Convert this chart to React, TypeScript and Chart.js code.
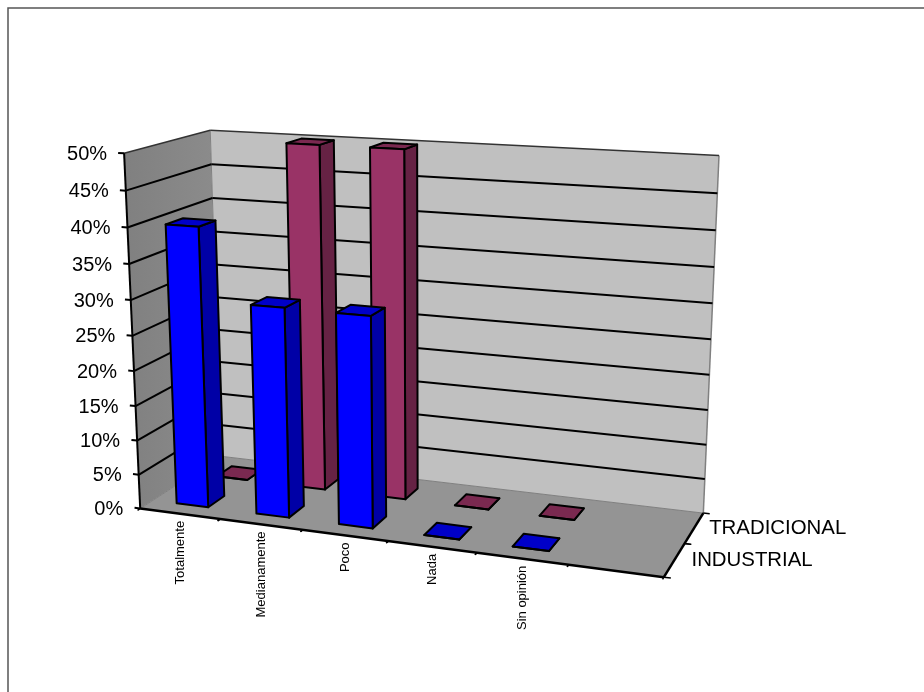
import React, { useEffect, useRef } from "react";
import { Chart, registerables } from "chart.js";

Chart.register(...registerables);

const categories = ["Totalmente", "Medianamente", "Poco", "Nada", "Sin opinión", ""];
const industrial = [40, 29.8, 29.7, 0, 0, null];
const tradicional = [0, 50, 50, 0, 0, null];
const seriesNames = ["INDUSTRIAL", "TRADICIONAL"];

const FONT = '"Liberation Sans", Arial, sans-serif';

// Seen corners of the plot box: [across, up, depth] -> canvas pixel.
const boxCorners: [number, number, number, number, number][] = [
  [0, 0, 0, 140, 507.7],
  [1, 0, 0, 664, 577],
  [0, 1, 0, 124.3, 153.3],
  [0, 0, 1, 221, 456.7],
  [1, 0, 1, 703.3, 512.7],
  [0, 1, 1, 210, 130],
  [1, 1, 1, 719, 155.7],
  [0.5, 0, 0, 388, 542],
  [0, 0.5, 0, 132.5, 336],
];

function solveCamera(points: typeof boxCorners): number[] {
  const rows: number[][] = [];
  for (const [x, y, z, px, py] of points) {
    const u = px / 1000;
    const v = py / 1000;
    rows.push([x, y, z, 1, 0, 0, 0, 0, -u * x, -u * y, -u * z, u]);
    rows.push([0, 0, 0, 0, x, y, z, 1, -v * x, -v * y, -v * z, v]);
  }
  const n = 11;
  const a: number[][] = [];
  for (let i = 0; i < n; i++) {
    const row = new Array(n + 1).fill(0);
    for (let j = 0; j <= n; j++) {
      for (const r of rows) row[j] += r[i] * r[j];
    }
    a.push(row);
  }
  for (let c = 0; c < n; c++) {
    let pivot = c;
    for (let r = c + 1; r < n; r++) {
      if (Math.abs(a[r][c]) > Math.abs(a[pivot][c])) pivot = r;
    }
    [a[c], a[pivot]] = [a[pivot], a[c]];
    for (let r = 0; r < n; r++) {
      if (r === c) continue;
      const f = a[r][c] / a[c][c];
      for (let j = c; j <= n; j++) a[r][j] -= f * a[c][j];
    }
  }
  return a.map((row, i) => row[n] / row[i]);
}

const cam = solveCamera(boxCorners);

function project(x: number, y: number, z: number): [number, number] {
  const w = cam[8] * x + cam[9] * y + cam[10] * z + 1;
  return [
    (1000 * (cam[0] * x + cam[1] * y + cam[2] * z + cam[3])) / w,
    (1000 * (cam[4] * x + cam[5] * y + cam[6] * z + cam[7])) / w,
  ];
}

type Pt = [number, number, number];

function face(ctx: CanvasRenderingContext2D, pts: Pt[], fill: string | null, stroke: string | null, lw = 2) {
  ctx.beginPath();
  pts.forEach((p, i) => {
    const [px, py] = project(p[0], p[1], p[2]);
    if (i === 0) ctx.moveTo(px, py);
    else ctx.lineTo(px, py);
  });
  ctx.closePath();
  if (fill) {
    ctx.fillStyle = fill;
    ctx.fill();
  }
  if (stroke) {
    ctx.strokeStyle = stroke;
    ctx.lineWidth = lw;
    ctx.lineJoin = "round";
    ctx.stroke();
  }
}

function line(ctx: CanvasRenderingContext2D, a: Pt, b: Pt, color = "#000", lw = 2) {
  const [ax, ay] = project(a[0], a[1], a[2]);
  const [bx, by] = project(b[0], b[1], b[2]);
  ctx.beginPath();
  ctx.moveTo(ax, ay);
  ctx.lineTo(bx, by);
  ctx.strokeStyle = color;
  ctx.lineWidth = lw;
  ctx.stroke();
}

const faceColors = [
  { front: "#0000FF", side: "#0000A6", top: "#0000C8" },
  { front: "#993366", side: "#662244", top: "#7A2950" },
];

const depthBands = seriesNames.length;

// Draws the walls, floor and axes in perspective, taking positions from the chart's scales.
const scenePlugin = {
  id: "scene3d",
  beforeDatasetsDraw(chart: any) {
    const { ctx, chartArea: area, scales } = chart;
    ctx.save();

    ctx.strokeStyle = "#555";
    ctx.lineWidth = 1.5;
    ctx.beginPath();
    ctx.moveTo(8, 692);
    ctx.lineTo(8, 8);
    ctx.lineTo(924, 8);
    ctx.stroke();

    const wall = ctx.createLinearGradient(125, 0, 220, 0);
    wall.addColorStop(0, "#808080");
    wall.addColorStop(1, "#8c8c8c");
    face(ctx, [[0, 0, 0], [0, 0, 1], [0, 1, 1], [0, 1, 0]], wall, null);
    face(ctx, [[0, 0, 1], [1, 0, 1], [1, 1, 1], [0, 1, 1]], "#C0C0C0", null);
    face(ctx, [[0, 0, 0], [1, 0, 0], [1, 0, 1], [0, 0, 1]], "#949494", null);
    line(ctx, [1, 0, 1], [1, 1, 1], "#808080", 1.5);
    line(ctx, [0, 0, 1], [1, 0, 1], "#808080", 1);
    line(ctx, [0, 0, 0], [0, 0, 1], "#808080", 1);
    line(ctx, [0, 0, 1], [0, 1, 1], "#808080", 1);

    const yScale = scales.y;
    ctx.fillStyle = "#000";
    ctx.textBaseline = "middle";
    for (const tick of yScale.ticks) {
      const up = (area.bottom - yScale.getPixelForValue(tick.value)) / area.height;
      if (up > 0) {
        const isTop = tick.value === yScale.max;
        line(ctx, [0, up, 0], [0, up, 1], isTop ? "#333" : "#000", isTop ? 1.5 : 2);
        line(ctx, [0, up, 1], [1, up, 1], isTop ? "#333" : "#000", isTop ? 1.5 : 2);
      }
      line(ctx, [-0.012, up, 0], [0, up, 0]);
      const [tx, ty] = project(0, up, 0);
      ctx.font = `20px ${FONT}`;
      ctx.textAlign = "right";
      ctx.fillText(String(tick.label), tx - 17, ty + 1);
    }
    line(ctx, [0, 0, 0], [0, 1, 0]);
    line(ctx, [0, 0, 0], [1, 0, 0], "#000", 2.5);
    line(ctx, [1, 0, 0], [1, 0, 1], "#000", 2.5);

    const xScale = scales.x;
    const across = (px: number) => (px - area.left) / area.width;
    const cellW = area.width / categories.length;
    categories.forEach((label, i) => {
      const cx = xScale.getPixelForValue(i);
      const a = across(cx - cellW / 2);
      const b = across(cx + cellW / 2);
      line(ctx, [a, 0, 0], [a, 0, -0.03], "#000", 1.5);
      line(ctx, [b, 0, 0], [b, 0, -0.03], "#000", 1.5);
      if (!label) return;
      const pa = project(a, 0, 0);
      const pb = project(b, 0, 0);
      ctx.save();
      ctx.translate((pa[0] + pb[0]) / 2, (pa[1] + pb[1]) / 2 + 7);
      ctx.rotate(-Math.PI / 2);
      ctx.font = `13px ${FONT}`;
      ctx.textAlign = "right";
      ctx.textBaseline = "middle";
      ctx.fillStyle = "#000";
      ctx.fillText(label, 0, 0);
      ctx.restore();
    });

    seriesNames.forEach((name, i) => {
      const mid = (i + 0.5) / depthBands;
      line(ctx, [1, 0, i / depthBands], [1.012, 0, i / depthBands], "#000", 1.5);
      line(ctx, [1, 0, (i + 1) / depthBands], [1.012, 0, (i + 1) / depthBands], "#000", 1.5);
      const [px, py] = project(1, 0, mid);
      ctx.font = `20.4px ${FONT}`;
      ctx.textAlign = "left";
      ctx.textBaseline = "middle";
      ctx.fillStyle = "#000";
      ctx.fillText(name, px + 15 + (i === 0 ? 2 : 0), py);
    });
    ctx.restore();
  },
  // The flat rectangles are replaced by the boxes drawn below.
  beforeDatasetDraw() {
    return false;
  },
  afterDatasetsDraw(chart: any) {
    const { ctx, chartArea: area } = chart;
    ctx.save();
    for (let d = depthBands - 1; d >= 0; d--) {
      const bars = chart.getDatasetMeta(d).data;
      const values = chart.data.datasets[d].data;
      const colors = faceColors[d];
      const z0 = (d + 0.3) / depthBands;
      const z1 = (d + 0.7) / depthBands;
      bars.forEach((bar: any, i: number) => {
        if (values[i] === null) return;
        const x0 = (bar.x - bar.width / 2 - area.left) / area.width;
        const x1 = (bar.x + bar.width / 2 - area.left) / area.width;
        const h = (area.bottom - bar.y) / area.height;
        face(ctx, [[x1, 0, z0], [x1, 0, z1], [x1, h, z1], [x1, h, z0]], colors.side, "#000");
        face(ctx, [[x0, h, z0], [x1, h, z0], [x1, h, z1], [x0, h, z1]], colors.top, "#000");
        face(ctx, [[x0, 0, z0], [x1, 0, z0], [x1, h, z0], [x0, h, z0]], colors.front, "#000");
      });
    }
    ctx.restore();
  },
};

export default function App() {
  const ref = useRef<HTMLCanvasElement>(null);
  useEffect(() => {
    const chart = new Chart(ref.current!, {
      type: "bar",
      data: {
        labels: categories,
        datasets: [
          { label: seriesNames[0], data: industrial, backgroundColor: faceColors[0].front },
          { label: seriesNames[1], data: tradicional, backgroundColor: faceColors[1].front },
        ],
      },
      options: {
        animation: false,
        responsive: false,
        devicePixelRatio: 1,
        grouped: false,
        barPercentage: 0.4,
        categoryPercentage: 1,
        layout: { padding: 0 },
        plugins: { legend: { display: false }, tooltip: { enabled: false } },
        scales: {
          x: { display: false, offset: true },
          y: {
            display: false,
            min: 0,
            max: 50,
            ticks: { stepSize: 5, callback: (v: number) => `${v}%` },
          },
        },
      } as any,
      plugins: [scenePlugin],
    });
    return () => chart.destroy();
  }, []);
  return (
    <canvas
      ref={ref}
      width={924}
      height={692}
      style={{ position: "absolute", left: 0, top: 0, background: "#fff" }}
    />
  );
}
